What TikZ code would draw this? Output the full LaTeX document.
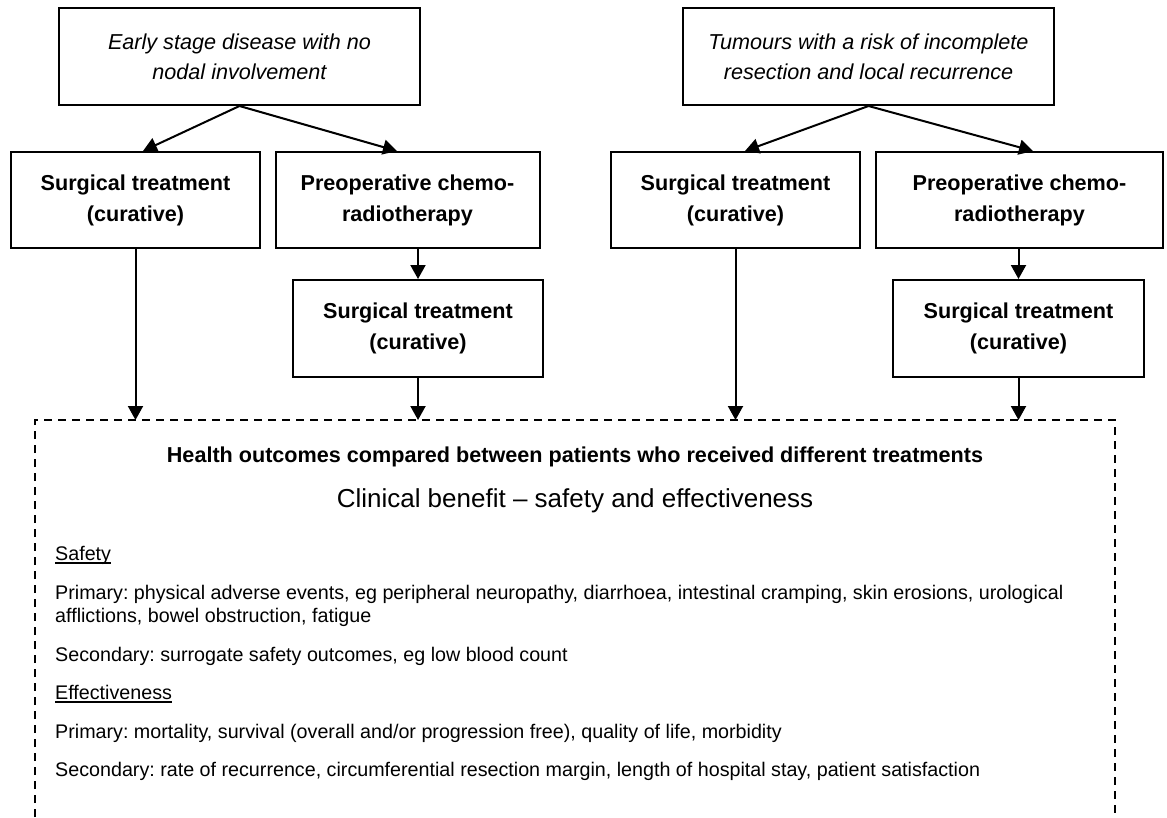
\documentclass[tikz,border=0pt]{standalone}
\usepackage{fontspec}
\setmainfont{Liberation Sans}
\usetikzlibrary{arrows.meta,calc}
\frenchspacing
\begin{document}
\begin{tikzpicture}[x=1pt,y=-1pt,
  box/.style={draw,line width=2pt,inner sep=0pt,align=center,
    font=\fontsize{21.6}{31}\selectfont\bfseries},
  topbox/.style={box,minimum height=97pt,
    font=\fontsize{21.6}{30}\selectfont\itshape},
  arr/.style={line width=2pt,-{Triangle[length=14pt,width=15pt]}},
  frame/.style={line width=1.8pt,dash pattern=on 8pt off 6pt},
  head/.style={anchor=base,inner sep=0pt,font=\fontsize{21.6}{26}\selectfont\bfseries},
  big/.style={anchor=base,inner sep=0pt,font=\fontsize{26}{30}\selectfont},
  body/.style={anchor=base west,inner sep=0pt,font=\fontsize{19.7}{22.6}\selectfont},
  uline/.style={line width=1.3pt}]
\useasboundingbox (0,0) rectangle (1167,817);

% top boxes
\node[topbox,minimum width=361pt] (T1) at (239.5,56.5) {Early stage disease with no\\nodal involvement};
\node[topbox,minimum width=371pt] (T2) at (868.5,56.5) {Tumours with a risk of incomplete\\resection and local recurrence};

% second row
\node[box,minimum width=249pt,minimum height=96pt] (A1) at (135.5,200) {Surgical treatment\\(curative)};
\node[box,minimum width=264pt,minimum height=96pt] (A2) at (407.5,200) {Preoperative chemo-\\radiotherapy};
\node[box,minimum width=249pt,minimum height=96pt] (B1) at (735.5,200) {Surgical treatment\\(curative)};
\node[box,minimum width=287pt,minimum height=96pt] (B2) at (1019.5,200) {Preoperative chemo-\\radiotherapy};

% third row
\node[box,minimum width=250pt,minimum height=97pt] (C1) at (418,328.5) {Surgical treatment\\(curative)};
\node[box,minimum width=251pt,minimum height=97pt] (C2) at (1018.5,328.5) {Surgical treatment\\(curative)};

% dashed frame (open at the bottom)
\coordinate (dbl) at (35,817);
\coordinate (dtl) at (35,420);
\coordinate (dtr) at (1115,420);
\coordinate (dbr) at (1115,817);
\coordinate (dtop) at (575,420);
\draw[frame] (dbl) -- (dtl) -- (dtr) -- (dbr);

% connectors
\draw[arr] (T1.south) -- ([xshift=7.5pt]A1.north);
\draw[arr] (T1.south) -- ([xshift=-10.5pt]A2.north);
\draw[arr] (T2.south) -- ([xshift=9.5pt]B1.north);
\draw[arr] (T2.south) -- ([xshift=13.5pt]B2.north);
\draw[arr] (A1.south) -- (A1.south |- dtop);
\draw[arr] (C1.north |- A2.south) -- (C1.north);
\draw[arr] (C1.south) -- (C1.south |- dtop);
\draw[arr] (B1.south) -- (B1.south |- dtop);
\draw[arr] (C2.north |- B2.south) -- (C2.north);
\draw[arr] (C2.south) -- (C2.south |- dtop);

% texts in the dashed frame
\node[head] (h1) at (575,462) {Health outcomes compared between patients who received different treatments};
\node[big] (h2) at (575,507) {Clinical benefit -- safety and effectiveness};
\node[body] (s1) at (55,560) {Safety};
\draw[uline] ([yshift=-3pt]s1.base west) -- ([yshift=-3pt]s1.base east);
\node[body] (p1) at (55,599) {Primary: physical adverse events, eg peripheral neuropathy, diarrhoea, intestinal cramping, skin erosions, urological};
\node[body] (p2) at (55,622) {afflictions, bowel obstruction, fatigue};
\node[body] (p3) at (55,661) {Secondary: surrogate safety outcomes, eg low blood count};
\node[body] (e1) at (55,699) {Effectiveness};
\draw[uline] ([yshift=-3pt]e1.base west) -- ([yshift=-3pt]e1.base east);
\node[body] (p4) at (55,738) {Primary: mortality, survival (overall and/or progression free), quality of life, morbidity};
\node[body] (p5) at (55,776) {Secondary: rate of recurrence, circumferential resection margin, length of hospital stay, patient satisfaction};
\end{tikzpicture}
\end{document}
